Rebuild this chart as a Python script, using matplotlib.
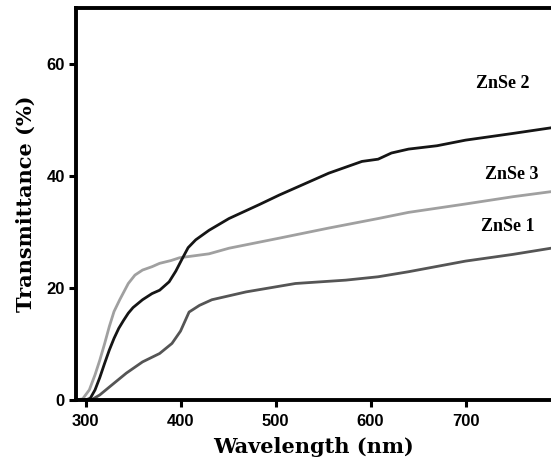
#!/usr/bin/env python3
# -*- coding: utf-8 -*-
"""Transmittance spectra of ZnSe films"""
import matplotlib
matplotlib.use("Agg")
import matplotlib.pyplot as plt

# ZnSe 2 (black)
wl_2 = [290, 300, 305, 310, 315, 320, 325, 330, 335, 340, 345, 350, 360, 370,
        378, 388, 395, 402, 408, 416, 430, 451, 483, 504, 556, 591, 608, 622,
        640, 670, 700, 750, 790]
tr_2 = [0, 0, 0.3, 1.8, 4, 6.5, 8.9, 11, 12.8, 14.2, 15.5, 16.5, 17.9, 19,
        19.6, 21.1, 23, 25.3, 27.2, 28.6, 30.3, 32.4, 34.9, 36.6, 40.5, 42.6,
        43.0, 44.1, 44.8, 45.4, 46.4, 47.6, 48.6]

# ZnSe 3 (light grey)
wl_3 = [290, 297, 304, 310, 315, 320, 325, 330, 336, 345, 352, 360, 370, 378,
        390, 399, 430, 451, 504, 556, 608, 640, 700, 750, 790]
tr_3 = [0, 0.2, 1.8, 4.5, 7.1, 10, 13.1, 15.8, 17.9, 20.8, 22.3, 23.2, 23.8,
        24.4, 24.9, 25.4, 26.1, 27.1, 28.9, 30.7, 32.4, 33.5, 35.0, 36.3,
        37.2]

# ZnSe 1 (dark grey)
wl_1 = [290, 300, 307, 315, 325, 343, 360, 378, 391, 400, 409, 420, 433, 469,
        521, 574, 608, 640, 700, 750, 790]
tr_1 = [0, 0, 0.1, 0.9, 2.3, 4.8, 6.8, 8.3, 10.1, 12.3, 15.7, 16.9, 17.9,
        19.3, 20.8, 21.4, 22.0, 22.9, 24.8, 26, 27.1]

labels = ["ZnSe 2", "ZnSe 3", "ZnSe 1"]
label_pos = [(739, 56.6), (749, 40.2), (744, 30.9)]

x_ticks = [300, 400, 500, 600, 700]
y_ticks = [0, 20, 40, 60]

fig = plt.figure(figsize=(5.51, 4.70), dpi=100)
ax = fig.add_axes([0.138, 0.149, 0.862, 0.834])

ax.plot(wl_1, tr_1, color="#555555", linewidth=2.0)
ax.plot(wl_3, tr_3, color="#a0a0a0", linewidth=2.0)
ax.plot(wl_2, tr_2, color="#151515", linewidth=2.0)

for text, (x, y) in zip(labels, label_pos):
    ax.text(x, y, text, ha="center", va="center", fontsize=13,
            fontweight="bold", family="Liberation Serif")

ax.set_xlim(290, 790)
ax.set_ylim(0, 70)
ax.set_xticks(x_ticks)
ax.set_yticks(y_ticks)
for lbl in ax.get_xticklabels() + ax.get_yticklabels():
    lbl.set_family("Liberation Sans")
    lbl.set_fontweight("bold")
    lbl.set_fontsize(12)
ax.tick_params(direction="out", length=5, width=2.2)
ax.tick_params(axis="x", pad=5)
ax.tick_params(axis="y", pad=3)

for side in ["left", "bottom", "top"]:
    ax.spines[side].set_linewidth(2.8)
ax.spines["right"].set_visible(False)

ax.set_xlabel("Wavelength (nm)", fontsize=15, fontweight="bold",
              family="DejaVu Serif", labelpad=6)
ax.set_ylabel("Transmittance (%)", fontsize=15, fontweight="bold",
              family="DejaVu Serif", labelpad=8)

fig.savefig("out.png", dpi=100)
